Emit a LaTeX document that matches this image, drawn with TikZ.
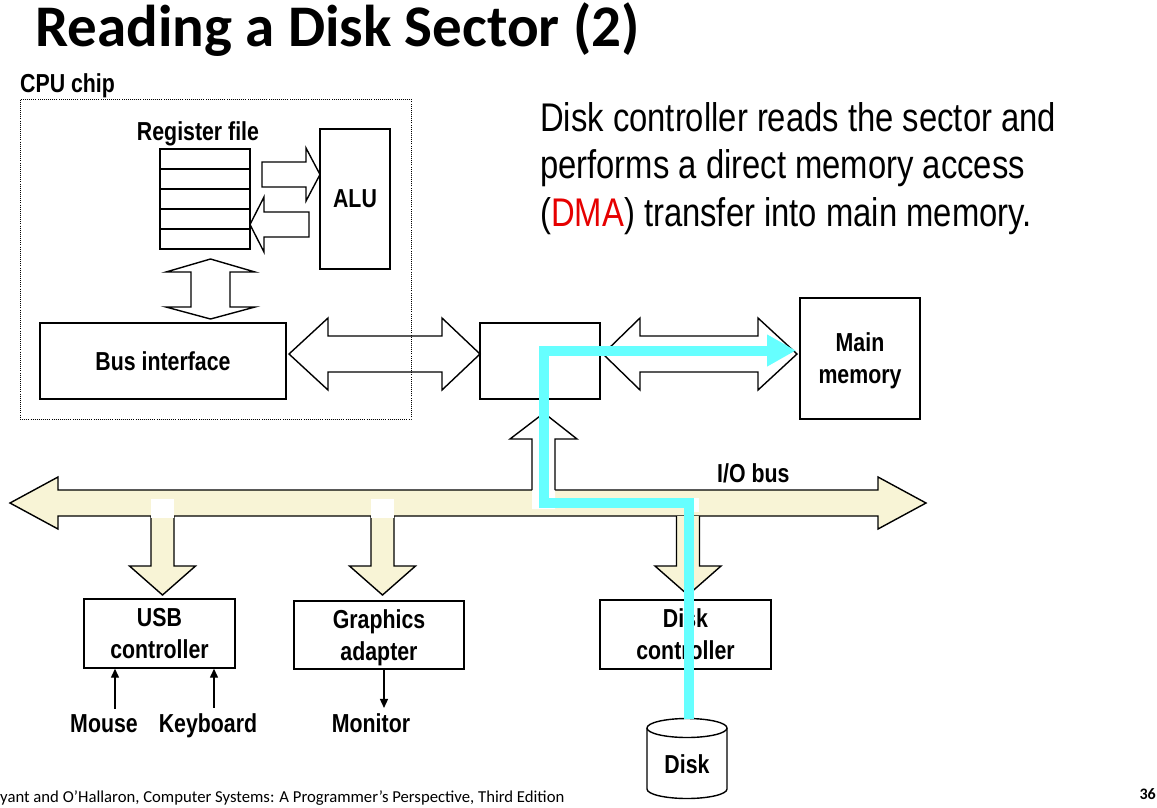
\documentclass[tikz,border=0pt]{standalone}
\usepackage{fontspec}
\usetikzlibrary{arrows.meta}
\setmainfont{Liberation Sans}
\newfontfamily\narrowfont[FakeStretch=0.82]{Liberation Sans}
\newfontfamily\slidefont{Carlito}
\definecolor{BusFill}{RGB}{248,244,214}
\definecolor{PathCyan}{RGB}{102,255,255}
\definecolor{DMARed}{RGB}{230,0,0}

\begin{document}
\begin{tikzpicture}[x=1pt,y=-1pt,
    labeltext/.style={font=\narrowfont\bfseries\fontsize{26}{32}\selectfont, align=center, inner sep=0pt},
    unitbox/.style={labeltext, draw, line width=1.4pt, fill=white, text depth=0pt},
    regcell/.style={draw, line width=1.4pt, minimum width=90pt, minimum height=20pt, inner sep=0pt},
    cpuframe/.style={draw, line width=0.9pt, dash pattern=on 0.9pt off 1.2pt, inner sep=0pt},
    blockarrow/.style={draw, fill=white, line width=1.4pt, line join=miter},
    busarrow/.style={blockarrow, fill=BusFill},
    thinarrow/.style={line width=1.4pt, -{Triangle[length=9pt,width=8pt]}},
    dmapath/.style={PathCyan, line width=10pt, line join=miter, -{Triangle[length=29pt,width=30pt]}}]
    \useasboundingbox (0,0) rectangle (1157,807);
    \fill[white] (0,0) rectangle (1157,807);

    % Title
    \node[anchor=base west, inner sep=0pt, font=\slidefont\bfseries\fontsize{59}{62}\selectfont] (title) at (35,46) {Reading a Disk Sector (2)};
    \node[anchor=north west, inner sep=0pt, align=left, font=\narrowfont\fontsize{40}{47.5}\selectfont] (desc) at (540,102)
        {Disk controller reads the sector and\\performs a direct memory access\\(\textcolor{DMARed}{DMA}) transfer into main memory.};

    % CPU chip
    \node[labeltext, anchor=base west] (cpulabel) at (20,92) {CPU chip};
    \node[labeltext, anchor=base] (reglabel) at (198,140) {Register file};
    \foreach \r in {0,...,4}
        \node[regcell] (reg\r) at (205,{159+20*\r}) {};
    \node[unitbox, minimum width=70pt, minimum height=140pt] (alu) at (355,199) {ALU};
    \node[unitbox, minimum width=246pt, minimum height=76pt] (busif) at (163,361) {Bus interface};
    \draw[blockarrow] (262,162) -- (306,162) -- (306,148) -- (320,174.5) -- (306,201) -- (306,187) -- (262,187) -- cycle;
    \draw[blockarrow] (309,212) -- (264,212) -- (264,197) -- (250,224.5) -- (264,252) -- (264,237) -- (309,237) -- cycle;
    \draw[blockarrow] (210.5,259) -- (255,272) -- (230,272) -- (230,307) -- (255,307) -- (210.5,319)
        -- (166,307) -- (191,307) -- (191,272) -- (166,272) -- cycle;

    % Bridge and main memory
    \node[unitbox, minimum width=120pt, minimum height=76pt] (bridge) at (540,361) {};
    \node[unitbox, minimum width=120pt, minimum height=121pt] (mem) at (860,358.5) {Main\\memory};
    \draw[blockarrow] (289,354) -- (328,318) -- (328,336) -- (442,336) -- (442,318) -- (480,354)
        -- (442,390) -- (442,372) -- (328,372) -- (328,390) -- cycle;
    \draw[blockarrow] (603,354) -- (640,318) -- (640,336) -- (758,336) -- (758,318) -- (797,354)
        -- (758,390) -- (758,372) -- (640,372) -- (640,390) -- cycle;
    \node[cpuframe, minimum width=391pt, minimum height=320pt] (cpu) at (215.5,259) {};

    % I/O bus
    \draw[busarrow] (10,503) -- (58,477) -- (58,490) -- (878,490) -- (878,477) -- (926,503)
        -- (878,529) -- (878,516) -- (58,516) -- (58,529) -- cycle;
    \node[labeltext, anchor=base west] (buslabel) at (717,482) {I/O bus};
    \foreach \x in {162.5,382.5,688}
        \draw[busarrow] (\x-11.5,516) -- (\x-11.5,566) -- (\x-33,566) -- (\x,595) -- (\x+33,566) -- (\x+11.5,566) -- (\x+11.5,516);
    \foreach \x in {162.5,382.5}
        \fill[white] (\x-11.5,499) rectangle (\x+11.5,518);
    \fill[white] (693,498) rectangle (699,512);
    \fill[white] (532,509) -- (532,439) -- (510,439) -- (544,413) -- (577,439) -- (555,439) -- (555,509) -- cycle;
    \draw[line width=1.4pt, line join=miter] (532,490) -- (532,439) -- (510,439) -- (544,413) -- (577,439) -- (555,439) -- (555,490);

    % Controllers
    \node[unitbox, minimum width=151pt, minimum height=69pt] (usb) at (159.5,633.5) {USB\\controller};
    \node[unitbox, minimum width=170pt, minimum height=68pt] (graphics) at (379,635) {Graphics\\adapter};
    \node[unitbox, minimum width=171pt, minimum height=69pt] (diskctl) at (685.5,634.5) {Disk\\controller};
    \node[labeltext, anchor=base] (mouse) at (104,732) {Mouse};
    \node[labeltext, anchor=base] (keyboard) at (208,732) {Keyboard};
    \node[labeltext, anchor=base] (monitor) at (371,732) {Monitor};
    \draw[thinarrow] ([xshift=11pt,yshift=5pt]mouse.north) -- ([xshift=11pt]mouse.north |- usb.south);
    \draw[thinarrow] ([xshift=6pt,yshift=5pt]keyboard.north) -- ([xshift=6pt]keyboard.north |- usb.south);
    \draw[thinarrow] ([xshift=5pt]graphics.south) -- ([xshift=5pt,yshift=5pt]graphics.south |- monitor.north);

    % Disk
    \draw[line width=1.4pt, fill=white] (647,728) -- (647,789) arc[start angle=180, end angle=0, x radius=40, y radius=9.5]
        -- (727,728) arc[start angle=0, end angle=-180, x radius=40, y radius=9.5] -- cycle;
    \draw[line width=1.4pt] (647,728) arc[start angle=180, end angle=0, x radius=40, y radius=9.5];
    \node[labeltext, anchor=base] (disk) at (687,773) {Disk};
    \coordinate (disktop) at (688.5,719);
    \coordinate (dmaend) at (796,350.5);

    % DMA transfer
    \draw[dmapath] (disktop) -- (688.5,503) -- (544,503) -- (544,350.5) -- (dmaend);

    % Footer
    \node[anchor=base west, inner sep=0pt, font=\slidefont\fontsize{16.7}{18}\selectfont] (credit) at (0,802)
        {yant and O’Hallaron, Computer Systems: A Programmer’s Perspective, Third Edition};
    \node[anchor=base east, inner sep=0pt, font=\slidefont\bfseries\fontsize{16}{18}\selectfont] (pagenum) at (1156,799) {36};
\end{tikzpicture}
\end{document}
